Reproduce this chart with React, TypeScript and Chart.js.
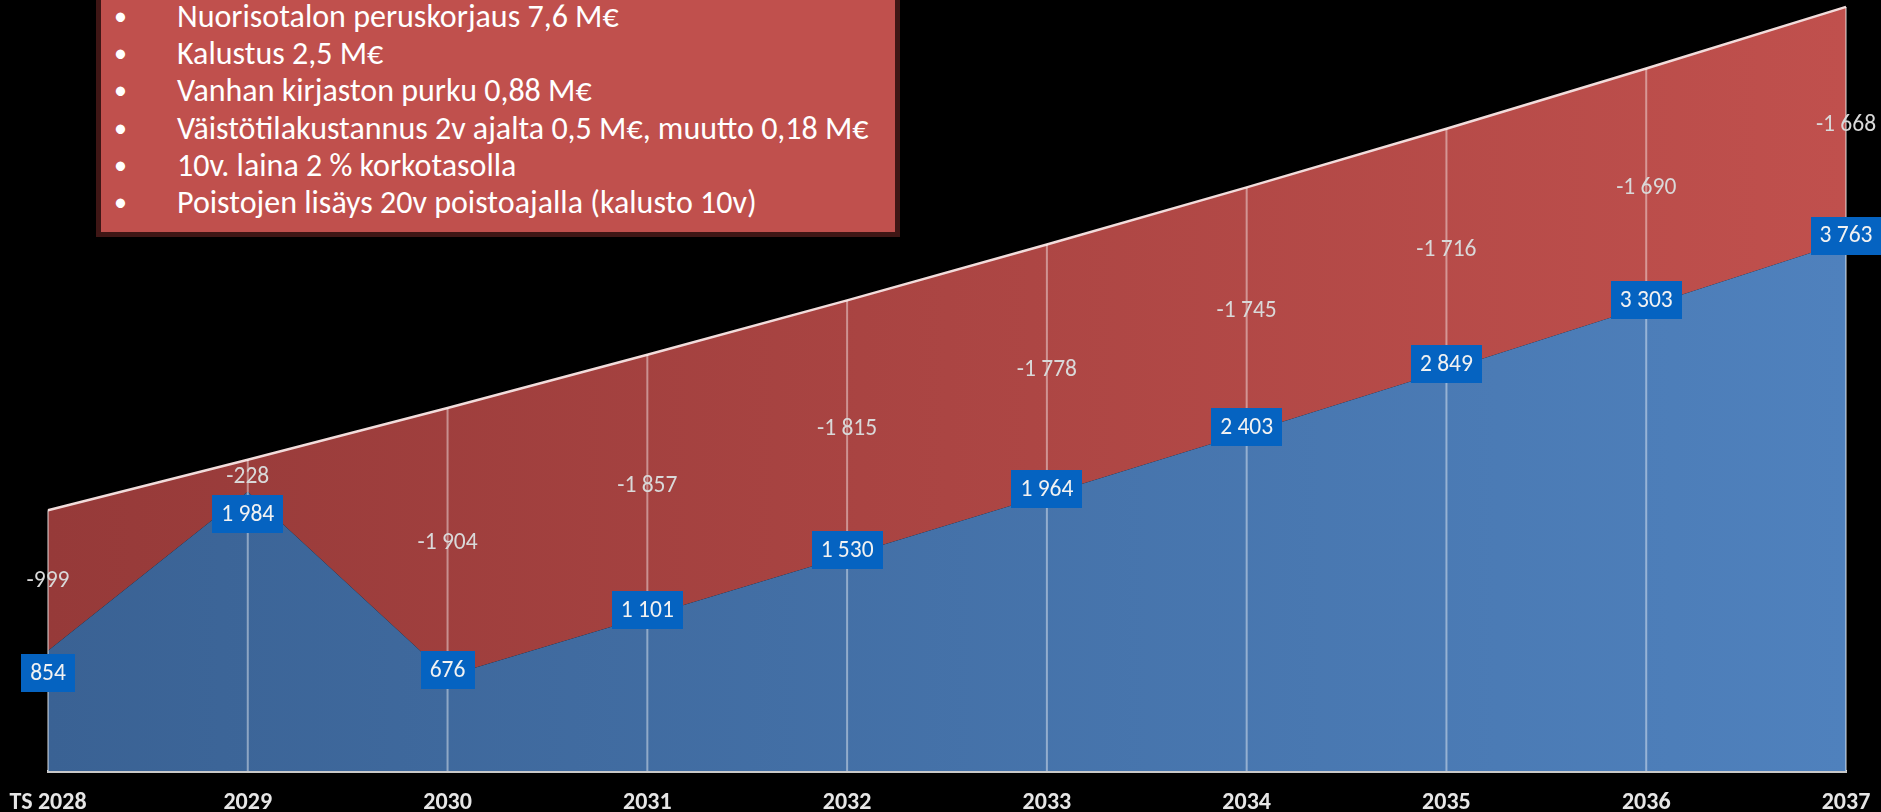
import React, { useEffect, useRef } from "react";
import { Chart, registerables } from "chart.js";

Chart.register(...registerables);

// ---- data ----
const categories = ["TS 2028", "2029", "2030", "2031", "2032", "2033", "2034", "2035", "2036", "2037"];
const resultValues = [854, 1984, 676, 1101, 1530, 1964, 2403, 2849, 3303, 3763];
const impactValues = [-999, -228, -1904, -1857, -1815, -1778, -1745, -1716, -1690, -1668];
const yAxisMax = 5480;
const bulletLines = [
  "Nuorisotalon peruskorjaus 7,6 M€",
  "Kalustus 2,5 M€",
  "Vanhan kirjaston purku 0,88 M€",
  "Väistötilakustannus 2v ajalta 0,5 M€, muutto 0,18 M€",
  "10v. laina 2 % korkotasolla",
  "Poistojen lisäys 20v poistoajalla (kalusto 10v)",
];
// label placement for the result series (true = label below the point)
const resultLabelBelow = [true, true, false, false, false, false, false, false, false, false];

const FONT = "Carlito, Calibri, Lato, 'Noto Sans', sans-serif";

function fmt(v: number): string {
  const s = Math.abs(Math.round(v)).toString().replace(/\B(?=(\d{3})+(?!\d))/g, " ");
  return (v < 0 ? "-" : "") + s;
}

function hGradient(chart: any, from: string, to: string, fallback: string) {
  const area = chart.chartArea;
  if (!area) return fallback;
  const g = chart.ctx.createLinearGradient(area.left, 0, area.right, 0);
  g.addColorStop(0, from);
  g.addColorStop(1, to);
  return g;
}

const overlayPlugin = {
  id: "overlayLabels",
  afterDatasetsDraw(chart: any) {
    const ctx = chart.ctx;
    const yScale = chart.scales.y;
    const meta0 = chart.getDatasetMeta(0);
    const meta1 = chart.getDatasetMeta(1);
    const base = yScale.getPixelForValue(0);
    ctx.save();
    // vertical drop lines from baseline to top of stack
    ctx.strokeStyle = "rgba(255,255,255,0.42)";
    ctx.lineWidth = 2;
    meta1.data.forEach((pt: any) => {
      ctx.beginPath();
      ctx.moveTo(pt.x, base);
      ctx.lineTo(pt.x, pt.y);
      ctx.stroke();
    });
    // impact labels (centre of the red band)
    ctx.font = `23.5px ${FONT}`;
    ctx.textAlign = "center";
    ctx.textBaseline = "middle";
    ctx.fillStyle = "#D9D9D9";
    impactValues.forEach((v, i) => {
      const top = meta1.data[i];
      const bot = meta0.data[i];
      ctx.fillText(fmt(v), top.x, (top.y + bot.y) / 2 + 1);
    });
    // result labels in blue boxes
    resultValues.forEach((v, i) => {
      const pt = meta0.data[i];
      const text = fmt(v);
      const w = ctx.measureText(text).width + 18;
      const h = 38;
      const cy = resultLabelBelow[i] ? pt.y + 22 : pt.y - 6;
      const cx = pt.x;
      ctx.fillStyle = "#0563C1";
      ctx.fillRect(Math.round(cx - w / 2), Math.round(cy - h / 2), Math.round(w), h);
      ctx.fillStyle = "#F2F2F2";
      ctx.fillText(text, cx, cy + 1);
    });
    ctx.restore();
  },
};

export default function App() {
  const canvasRef = useRef<HTMLCanvasElement | null>(null);

  useEffect(() => {
    if (!canvasRef.current) return;
    const chart = new Chart(canvasRef.current, {
      type: "line",
      data: {
        labels: categories,
        datasets: [
          {
            label: "Tulos",
            data: resultValues,
            fill: "origin",
            borderWidth: 0,
            pointRadius: 0,
            tension: 0,
            backgroundColor: (c: any) => hGradient(c.chart, "#3A6294", "#4F81BD", "#4472A8"),
          },
          {
            label: "Vaikutus",
            data: impactValues.map((v) => Math.abs(v)),
            fill: "-1",
            borderColor: "#F2DCDB",
            borderWidth: 2.5,
            pointRadius: 0,
            tension: 0,
            backgroundColor: (c: any) => hGradient(c.chart, "#963A39", "#C0504D", "#AA4543"),
          },
        ],
      },
      options: {
        animation: false,
        responsive: false,
        devicePixelRatio: 1,
        layout: { padding: { left: 48, right: 35, top: 0, bottom: 0 } },
        plugins: { legend: { display: false }, tooltip: { enabled: false } },
        scales: {
          x: {
            type: "category",
            offset: false,
            z: 1,
            grid: { display: false, drawTicks: false },
            border: { display: true, color: "#C8C8C8", width: 3 },
            ticks: {
              color: "#E6E6E6",
              font: { family: FONT, weight: "bold", size: 24 },
              padding: 18,
              maxRotation: 0,
              autoSkip: false,
            },
            afterFit: (s: any) => {
              s.height = 41;
              s.paddingLeft = 0;
              s.paddingRight = 0;
            },
          },
          y: {
            display: false,
            stacked: true,
            min: 0,
            max: yAxisMax,
          },
        },
      },
      plugins: [overlayPlugin],
    } as any);
    return () => chart.destroy();
  }, []);

  return (
    <div style={{ position: "fixed", left: 0, top: 0, width: 1881, height: 812, background: "#000", overflow: "hidden" }}>
      <canvas ref={canvasRef} width={1881} height={812} style={{ display: "block", position: "absolute", left: 0, top: 0 }} />
      <div
        style={{
          position: "absolute",
          left: 96,
          top: -20,
          width: 804,
          height: 257,
          boxSizing: "border-box",
          background: "#C0504D",
          border: "5px solid #3F1615",
          fontFamily: FONT,
          color: "#FFFFFF",
          fontSize: 32,
          paddingTop: 13,
        }}
      >
        {bulletLines.map((t, i) => (
          <div key={i} style={{ position: "relative", height: 37.2, lineHeight: "37.2px", paddingLeft: 76, whiteSpace: "nowrap" }}>
            <span style={{ position: "absolute", left: 13, fontSize: 26 }}>•</span>
            {t}
          </div>
        ))}
      </div>
    </div>
  );
}
